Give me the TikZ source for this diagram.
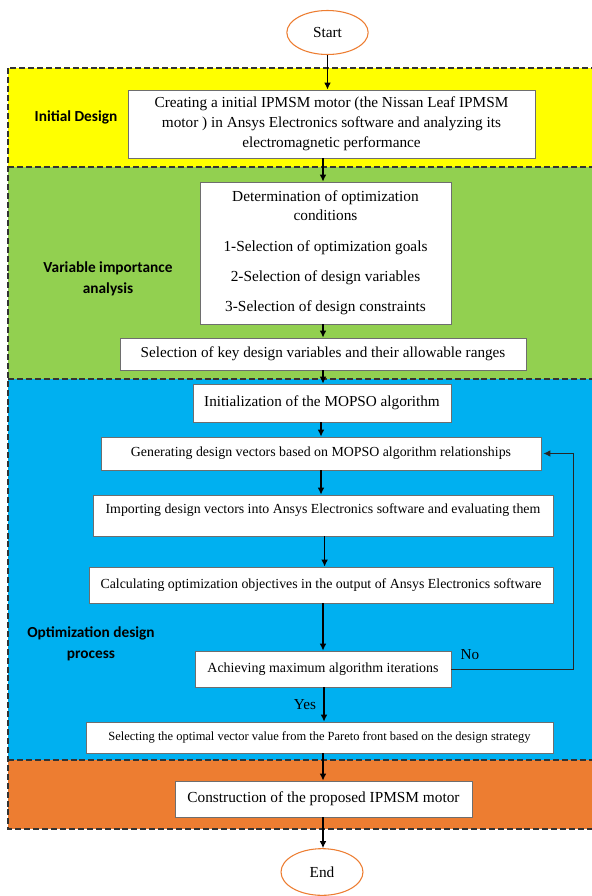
\documentclass[tikz,border=0pt]{standalone}
\usepackage{fontspec}
\setmainfont{Liberation Serif}
\newfontfamily\labfont{Carlito}
\usetikzlibrary{shapes.geometric,arrows.meta}
\definecolor{yel}{HTML}{FFFF00}
\definecolor{grn}{HTML}{92D050}
\definecolor{blu}{HTML}{00B0F0}
\definecolor{org}{HTML}{ED7D31}
\definecolor{boxline}{HTML}{6E6E6E}
\begin{document}
\begin{tikzpicture}[x=0.75pt,y=-0.75pt,
  region/.style={draw=black!80, dash pattern=on 4.5pt off 2.2pt, line width=0.9pt},
  box/.style={rectangle, draw=boxline, fill=white, line width=0.6pt, inner sep=0pt, align=center},
  term/.style={ellipse, draw=org, fill=white, line width=0.8pt, inner sep=0pt, font=\fontsize{11.5}{14}\selectfont},
  arr/.style={-{Latex[length=5.2pt,width=5pt]}, line width=0.9pt},
  lab/.style={font=\labfont\bfseries\fontsize{11.5}{15.5}\selectfont, align=center}
]
\useasboundingbox (0,0) rectangle (592,896);
\clip (0,0) rectangle (592,896);
\fill[white] (0,0) rectangle (592,896);
% regions
\fill[yel] (8,68) rectangle (600,167);
\fill[grn] (8,167) rectangle (600,379);
\fill[blu] (8,379) rectangle (600,760);
\fill[org] (8,760) rectangle (600,829);
\draw[region] (8,68) rectangle (600,829);
\draw[region] (8,167) -- (600,167);
\draw[region] (8,379) -- (600,379);
\draw[region] (8,760) -- (600,760);
% region labels
\node[lab] (l1) at (76,117) {Initial Design};
\node[lab] (l2) at (108,279) {Variable importance\\analysis};
\node[lab] (l3) at (91,644) {Optimization design\\process};
% terminals
\node[term, minimum width=61pt, minimum height=33pt] (start) at (327.5,32.5) {Start};
\node[term, minimum width=61.5pt, minimum height=35pt] (end) at (322,872) {End};
% boxes
\node[box, minimum width=305.25pt, minimum height=51pt, font=\fontsize{11.45}{15}\selectfont] (init) at (331.5,124)
  {Creating a initial IPMSM motor (the Nissan Leaf IPMSM\\motor ) in Ansys Electronics software and analyzing its\\electromagnetic performance};
\node[box, minimum width=188.25pt, minimum height=106.5pt, font=\fontsize{11.5}{14.25}\selectfont] (det) at (325.5,253)
  {Determination of optimization\\conditions\\[8.6pt]1-Selection of optimization goals\\[8.6pt]2-Selection of design variables\\[8.6pt]3-Selection of design constraints};
\node[box, minimum width=304.5pt, minimum height=24pt, font=\fontsize{11.4}{13}\selectfont] (key) at (323,354)
  {Selection of key design variables and their allowable ranges};
\node[box, minimum width=193.5pt, minimum height=28.5pt, font=\fontsize{11.4}{13}\selectfont] (initz) at (322,403)
  {Initialization of the MOPSO algorithm};
\node[box, minimum width=330pt, minimum height=24.75pt, font=\fontsize{10.4}{13}\selectfont] (gen) at (321,453.5)
  {Generating design vectors based on MOPSO algorithm relationships};
\node[box, minimum width=345pt, minimum height=30.75pt] (imp) at (323,515.5) {};
\node[font=\fontsize{10.4}{13}\selectfont, inner sep=0pt] (impt) at (323,510.5)
  {Importing design vectors into Ansys Electronics software and evaluating them};
\node[box, minimum width=348pt, minimum height=27pt, font=\fontsize{10.4}{13}\selectfont] (calc) at (321,585)
  {Calculating optimization objectives in the output of Ansys Electronics software};
\node[box, minimum width=192pt, minimum height=27pt, font=\fontsize{10.45}{13}\selectfont] (ach) at (323,669)
  {Achieving maximum algorithm iterations};
\node[box, minimum width=350.25pt, minimum height=23.25pt, font=\fontsize{9.35}{12}\selectfont] (selg) at (319.5,737.5)
  {Selecting the optimal vector value from the Pareto front based on the design strategy};
\node[box, minimum width=222.75pt, minimum height=27pt, font=\fontsize{11.5}{13}\selectfont] (con) at (323.5,799)
  {Construction of the proposed IPMSM motor};
% connectors
\coordinate (sp) at (323,0);
\coordinate (fb) at (573,0);
\draw[arr] (start.south) -- (start.south |- init.north);
\draw[arr] (init.south -| sp) -- (det.north -| sp);
\draw[arr] (det.south -| sp) -- (key.north -| sp);
\draw[arr] (key.south -| sp) -- (initz.north -| sp);
\draw[arr] ([xshift=-1.5pt]initz.south -| sp) -- ([xshift=-1.5pt]gen.north -| sp);
\draw[arr] ([xshift=-1.5pt]gen.south -| sp) -- ([xshift=-1.5pt]imp.north -| sp);
\draw[arr] ([xshift=1.2pt]imp.south -| sp) -- ([xshift=1.2pt]calc.north -| sp);
\draw[arr] (calc.south -| sp) -- (ach.north -| sp);
\draw[arr] ([xshift=0.75pt]ach.south -| sp) -- ([xshift=0.75pt]selg.north -| sp);
\draw[arr] (selg.south -| sp) -- (con.north -| sp);
\draw[arr] (con.south -| sp) -- (end.north -| sp);
\draw[arr, draw=black!85, line width=0.75pt, shorten >=1.5pt] (ach.east) -- (ach.east -| fb) |- (gen.east);
\node[font=\fontsize{11.4}{13}\selectfont] (no) at (470,655) {No};
\node[font=\fontsize{11.4}{13}\selectfont] (yes) at (305,705) {Yes};
\end{tikzpicture}
\end{document}
